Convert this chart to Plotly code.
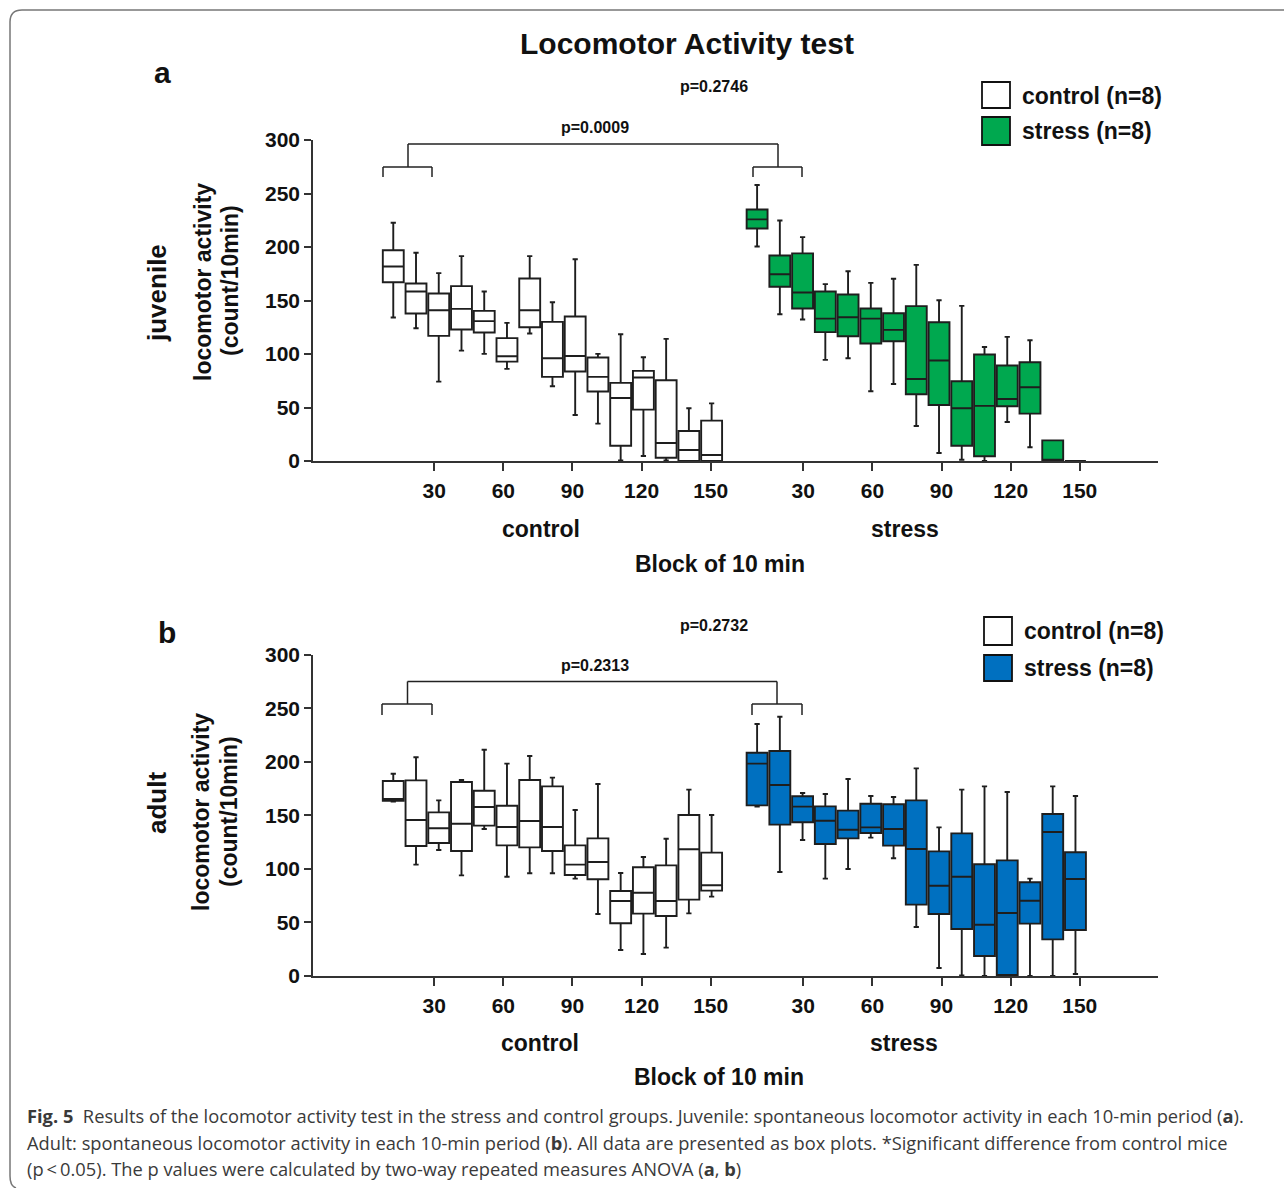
import plotly.graph_objects as go

# ---------------- data ----------------
blocks = [10, 20, 30, 40, 50, 60, 70, 80, 90, 100, 110, 120, 130, 140, 150]
tick_minutes = [30, 60, 90, 120, 150]

# juvenile control
juv_ctrl_high = [222.6, 194.6, 175.6, 191.5, 158.4, 129.1, 191.5, 148.4, 188.6, 100.1, 118.5, 97.0, 114.1, 49.3, 53.9]
juv_ctrl_q3 = [197.0, 165.9, 156.5, 163.4, 140.3, 114.8, 170.6, 130.0, 135.0, 96.7, 73.0, 84.2, 75.5, 28.1, 37.7]
juv_ctrl_med = [181.8, 158.4, 140.9, 142.2, 130.7, 97.9, 140.9, 96.0, 98.2, 78.6, 58.9, 78.0, 16.8, 10.3, 5.6]
juv_ctrl_q1 = [167.1, 137.8, 116.9, 122.9, 120.1, 92.9, 125.0, 78.6, 83.6, 64.9, 14.3, 48.0, 3.1, 0.0, 0.0]
juv_ctrl_low = [134.1, 124.1, 74.2, 103.2, 100.1, 86.1, 119.1, 69.8, 43.0, 34.9, 0.6, 4.7, 0.6, 0.0, 0.0]

# juvenile stress
juv_str_high = [257.9, 224.8, 209.2, 165.3, 177.4, 166.5, 170.3, 183.3, 150.3, 145.0, 106.6, 116.0, 112.9, 19.3, 0.0]
juv_str_q3 = [235.1, 192.1, 194.0, 158.4, 155.6, 142.5, 138.1, 144.7, 129.7, 74.5, 99.5, 89.2, 92.3, 19.3, 0.0]
juv_str_med = [225.8, 174.6, 157.5, 133.1, 134.4, 133.1, 122.5, 76.7, 93.9, 49.3, 51.5, 58.0, 68.9, 1.2, 0.0]
juv_str_q1 = [217.3, 162.8, 142.5, 120.4, 116.6, 109.8, 111.9, 62.4, 52.4, 14.3, 4.4, 51.1, 44.3, 0.0, 0.0]
juv_str_low = [200.5, 137.2, 132.2, 94.5, 96.0, 65.2, 72.0, 32.7, 7.5, 1.2, 0.0, 36.5, 12.8, 0.0, 0.0]

# adult control
adu_ctrl_high = [188.9, 204.2, 164.0, 183.0, 211.3, 198.3, 205.4, 185.2, 155.0, 179.3, 96.2, 111.1, 128.2, 174.0, 150.3]
adu_ctrl_q3 = [182.1, 182.7, 152.8, 181.1, 173.0, 159.0, 183.0, 177.1, 122.0, 128.5, 79.4, 101.5, 103.3, 150.3, 115.2]
adu_ctrl_med = [165.3, 145.7, 137.9, 142.2, 157.8, 139.1, 144.7, 139.1, 104.0, 106.4, 70.0, 77.8, 70.0, 118.3, 84.7]
adu_ctrl_q1 = [163.7, 121.4, 124.2, 116.7, 140.4, 122.0, 120.1, 116.7, 94.3, 90.3, 49.2, 58.2, 56.0, 71.3, 79.7]
adu_ctrl_low = [162.8, 104.0, 117.6, 94.0, 137.3, 92.7, 95.9, 95.9, 90.9, 57.9, 24.3, 20.5, 26.5, 58.5, 74.1]

# adult stress
adu_str_high = [235.3, 242.1, 170.9, 169.9, 183.9, 168.1, 167.1, 193.9, 138.8, 174.0, 177.1, 171.8, 90.9, 177.1, 168.1]
adu_str_q3 = [208.5, 210.1, 167.8, 158.4, 154.4, 160.9, 160.3, 164.0, 116.4, 133.2, 104.3, 108.0, 87.5, 151.3, 115.5]
adu_str_med = [198.3, 178.3, 158.1, 145.0, 136.6, 138.8, 137.3, 118.6, 84.3, 92.7, 47.9, 58.8, 70.3, 134.5, 90.6]
adu_str_q1 = [159.3, 141.3, 143.5, 123.2, 128.5, 133.5, 121.7, 66.6, 57.9, 43.9, 18.7, 0.9, 48.9, 34.2, 43.0]
adu_str_low = [158.1, 97.1, 127.0, 90.9, 99.9, 129.2, 109.9, 45.8, 7.5, 0.6, 0.0, 0.0, 0.0, 0.0, 1.9]

# ---------------- layout helpers ----------------
W, H = 1284, 1188
FONT = "Liberation Sans"
DARK = "#1e1e1e"
GREEN = "#00A84F"
BLUE = "#0070C0"


def fx(px):
    return px / W


def fy(py):
    return 1 - py / H


# positions on a shared numeric axis: control 1..15, stress 17..31
n = len(blocks)
pos_ctrl = [i + 1 for i in range(n)]
pos_str = [i + 1 + n + 1 for i in range(n)]
# in the original the tick marks are spaced slightly wider than the boxes
TICK_STEP = 3.04
tickvals = ([pos_ctrl[blocks.index(tick_minutes[0])] - 0.2 + TICK_STEP * k for k in range(len(tick_minutes))] +
            [pos_str[blocks.index(tick_minutes[0])] + 0.03 + TICK_STEP * k for k in range(len(tick_minutes))])
ticktext = [str(m) for m in tick_minutes] * 2

fig = go.Figure()


def add_box(x, low, q1, med, q3, high, color, xa, ya):
    fig.add_trace(go.Box(
        x=x, lowerfence=low, q1=q1, median=med, q3=q3, upperfence=high,
        fillcolor=color, line=dict(color=DARK, width=1.9), width=0.92,
        whiskerwidth=0.25, boxpoints=False, showlegend=False,
        xaxis=xa, yaxis=ya, hoverinfo="skip"))


add_box(pos_ctrl, juv_ctrl_low, juv_ctrl_q1, juv_ctrl_med, juv_ctrl_q3, juv_ctrl_high, "white", "x", "y")
add_box(pos_str, juv_str_low, juv_str_q1, juv_str_med, juv_str_q3, juv_str_high, GREEN, "x", "y")
add_box(pos_ctrl, adu_ctrl_low, adu_ctrl_q1, adu_ctrl_med, adu_ctrl_q3, adu_ctrl_high, "white", "x2", "y2")
add_box(pos_str, adu_str_low, adu_str_q1, adu_str_med, adu_str_q3, adu_str_high, BLUE, "x2", "y2")

xrange = [-2.53, 34.63]
xcommon = dict(range=xrange, tickvals=tickvals, ticktext=ticktext, showgrid=False, zeroline=False,
               showline=True, linecolor="#333", linewidth=1.6, ticks="outside", ticklen=8,
               tickwidth=1.6, tickcolor="#333", ticklabelstandoff=2, automargin=False,
               tickfont=dict(family=FONT, size=21, color="#111", weight="bold"))
ycommon = dict(range=[0, 300], tickvals=[0, 50, 100, 150, 200, 250, 300], showgrid=False, zeroline=False,
               showline=True, linecolor="#333", linewidth=1.6, ticks="outside", ticklen=7,
               tickwidth=1.6, tickcolor="#333", automargin=False,
               tickfont=dict(family=FONT, size=21, color="#111", weight="bold"))

fig.update_layout(
    width=W, height=H, autosize=False,
    margin=dict(l=0, r=0, t=0, b=0, pad=0, autoexpand=False),
    paper_bgcolor="white", plot_bgcolor="white",
    boxmode="overlay",
    xaxis=dict(domain=[fx(313), fx(1158)], anchor="y", **xcommon),
    yaxis=dict(domain=[fy(461), fy(140)], anchor="x", **ycommon),
    xaxis2=dict(domain=[fx(313), fx(1158)], anchor="y2", **xcommon),
    yaxis2=dict(domain=[fy(976), fy(654.7)], anchor="x2", **ycommon),
)

shapes = []
annotations = []


def line(x0, y0, x1, y1, color="#222", width=1.5):
    shapes.append(dict(type="line", xref="paper", yref="paper", x0=fx(x0), y0=fy(y0), x1=fx(x1), y1=fy(y1),
                       line=dict(color=color, width=width)))


def text(x, y, s, size, xanchor="center", angle=0, color="#111", family=FONT):
    annotations.append(dict(xref="paper", yref="paper", x=fx(x), y=fy(y), text=s, showarrow=False,
                            xanchor=xanchor, yanchor="middle", textangle=angle,
                            font=dict(family=family, size=size, color=color)))


def rect(x0, y0, x1, y1, fill):
    shapes.append(dict(type="rect", xref="paper", yref="paper", x0=fx(x0), y0=fy(y0), x1=fx(x1), y1=fy(y1),
                       fillcolor=fill, line=dict(color="#111", width=1.8)))


def bracket(yb, ye, yt, left, right):
    for (a, b, c) in (left, right):
        line(a, yb, b, yb)
        line(a, yb, a, ye)
        line(b, yb, b, ye)
        line(c, yb, c, yt)
    line(left[2], yt, right[2], yt)


# outer rounded border
r = 12
path = (f"M {fx(1284)} {fy(10)} L {fx(10 + r)} {fy(10)} Q {fx(10)} {fy(10)} {fx(10)} {fy(10 + r)} "
        f"L {fx(10)} {fy(1176)} Q {fx(10)} {fy(1186)} {fx(16)} {fy(1188)}")
shapes.append(dict(type="path", xref="paper", yref="paper", path=path, line=dict(color="#777", width=1.5)))

text(687, 43, "<b>Locomotor Activity test</b>", 30)

# panel a
text(163, 73, "<b>a</b>", 30)
text(157, 293, "<b>juvenile</b>", 26, angle=-90)
text(203, 282, "<b>locomotor activity</b>", 23, angle=-90)
text(230, 281, "<b>(count/10min)</b>", 23, angle=-90)
text(541, 529, "<b>control</b>", 23)
text(905, 529, "<b>stress</b>", 23)
text(720, 564, "<b>Block of 10 min</b>", 23)
text(714, 87, "<b>p=0.2746</b>", 16)
text(595, 128, "<b>p=0.0009</b>", 16)
bracket(167, 177, 144, (383, 432, 408), (753, 802, 778))
rect(982, 82, 1010, 108, "white")
rect(982, 117, 1010, 145, GREEN)
text(1020, 96, "<b>control (n=8)</b>", 23, xanchor="left")
text(1020, 131, "<b>stress (n=8)</b>", 23, xanchor="left")

# panel b
text(167, 632, "<b>b</b>", 30)
text(157, 803, "<b>adult</b>", 26, angle=-90)
text(201, 812, "<b>locomotor activity</b>", 23, angle=-90)
text(229, 812, "<b>(count/10min)</b>", 23, angle=-90)
text(540, 1043, "<b>control</b>", 23)
text(904, 1043, "<b>stress</b>", 23)
text(719, 1077, "<b>Block of 10 min</b>", 23)
text(714, 625, "<b>p=0.2732</b>", 16)
text(595, 666, "<b>p=0.2313</b>", 16)
bracket(704, 715, 681.5, (382, 432, 407.5), (752, 802, 777))
rect(984, 617, 1012, 645, "white")
rect(984, 655, 1012, 681, BLUE)
text(1022, 631, "<b>control (n=8)</b>", 23, xanchor="left")
text(1022, 668, "<b>stress (n=8)</b>", 23, xanchor="left")

# caption
CAP = "Open Sans"
CS = 18.3
text(25, 1115, "<b>Fig. 5</b>  Results of the locomotor activity test in the stress and control groups. "
               "Juvenile: spontaneous locomotor activity in each 10-min period (<b>a</b>).",
     CS, xanchor="left", color="#3a3a3a", family=CAP)
text(25, 1142, "Adult: spontaneous locomotor activity in each 10-min period (<b>b</b>). "
               "All data are presented as box plots. *Significant difference from control mice",
     CS, xanchor="left", color="#3a3a3a", family=CAP)
text(25, 1168, "(p\u2009<\u20090.05). The p values were calculated by two-way repeated measures ANOVA (<b>a</b>, <b>b</b>)",
     CS, xanchor="left", color="#3a3a3a", family=CAP)

fig.update_layout(shapes=shapes, annotations=annotations)
fig.write_html("out.html", config={"displayModeBar": False},
               post_script="document.body.style.margin='0';document.body.style.overflow='hidden';")
